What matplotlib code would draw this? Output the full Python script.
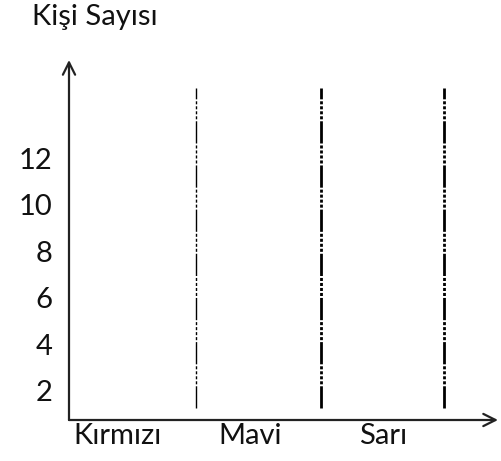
import matplotlib
matplotlib.use("Agg")
import matplotlib.pyplot as plt

# Data (empty worksheet chart)
categories = ["Kırmızı", "Mavi", "Sarı"]
y_ticks = [2, 4, 6, 8, 10, 12]
y_title = "Kişi Sayısı"

plt.rcParams['font.family'] = ['Lato', 'DejaVu Sans']

fig = plt.figure(figsize=(5.02, 4.61), dpi=100)
W, H = 502, 461
ax_left, ax_right, ax_bottom, ax_top = 69, 498, 420, 60
ax = fig.add_axes([ax_left / W, 1 - ax_bottom / H, (ax_right - ax_left) / W, (ax_bottom - ax_top) / H])

ax.set_xlim(-0.37, 2.87)
ax.set_ylim(0.73, 16.25)

for s in ax.spines.values():
    s.set_visible(False)

# axis arrows
ax.annotate("", xy=(0, 1), xytext=(0, 0), xycoords="axes fraction",
            arrowprops=dict(arrowstyle="->", lw=1.6, color="#222222", mutation_scale=22,
                            shrinkA=0, shrinkB=0))
ax.annotate("", xy=(1, 0), xytext=(0, 0), xycoords="axes fraction",
            arrowprops=dict(arrowstyle="->", lw=1.6, color="#222222", mutation_scale=22,
                            shrinkA=0, shrinkB=0))

# separators between category columns
sep_x = [0.59, 1.53, 2.46]
sep_lw = [1.0, 2.0, 2.0]
pattern_pt = [16, 1.4, 2.2, 1.4, 2.2, 1.4, 2.2, 1.4, 2.2, 1.4]
for x, lw in zip(sep_x, sep_lw):
    ln, = ax.plot([x, x], [1.25, 15.04], color="black", lw=lw, solid_capstyle="butt",
                  dash_capstyle="butt")
    ln.set_dashes([p / lw for p in pattern_pt])

ax.set_yticks(y_ticks)
ax.set_yticklabels([str(v) for v in y_ticks], fontsize=21, color="#111111")
ax.set_xticks(range(len(categories)))
ax.set_xticklabels(categories, fontsize=21, color="#111111")
ax.tick_params(axis="y", length=0, pad=12)
ax.tick_params(axis="x", length=0, pad=2)

fig.text(32 / W, 1 - 17 / H, y_title, fontsize=21, color="#111111", ha="left", va="center")

fig.savefig("out.png", dpi=100)
